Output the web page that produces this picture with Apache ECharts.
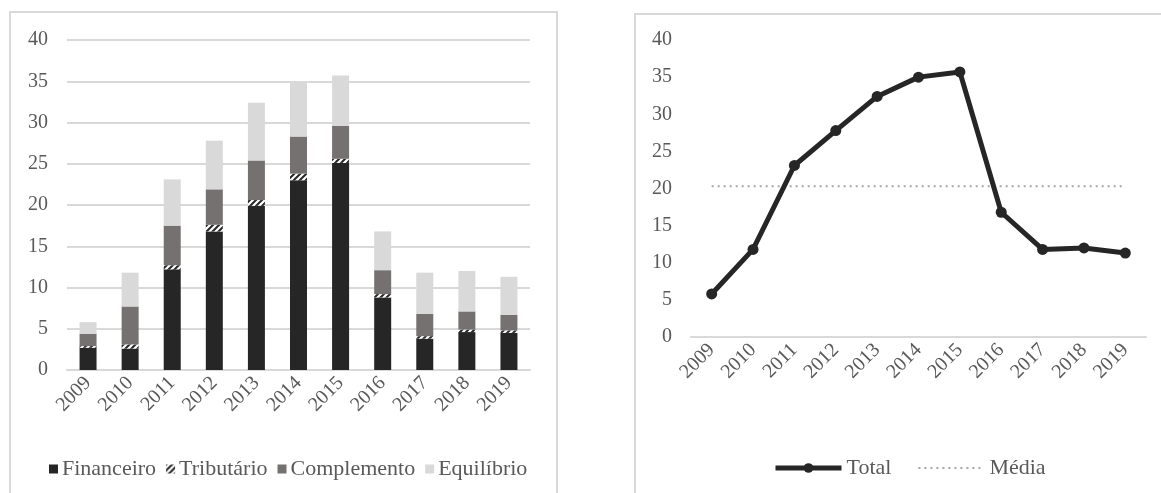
<!DOCTYPE html>
<html>
<head>
<meta charset="utf-8">
<script src="https://cdn.jsdelivr.net/npm/echarts@6/dist/echarts.min.js"></script>
<style>
  html, body { margin: 0; padding: 0; background: #ffffff; }
  #chart { width: 1161px; height: 493px; }
</style>
</head>
<body>
<div id="chart"></div>
<script>
// Anos
const years = ['2009', '2010', '2011', '2012', '2013', '2014', '2015', '2016', '2017', '2018', '2019'];

// Composição por tipo (empilhado)
const financeiro  = [2.7, 2.6, 12.2, 16.8, 19.9, 23.0, 25.1, 8.8, 3.8, 4.6, 4.5];
const tributario  = [0.2, 0.5, 0.5, 0.8, 0.7, 0.8, 0.5, 0.4, 0.3, 0.3, 0.3];
const complemento = [1.5, 4.6, 4.8, 4.3, 4.8, 4.5, 4.0, 2.9, 2.7, 2.2, 1.9];
const equilibrio  = [1.4, 4.1, 5.6, 5.9, 7.0, 6.7, 6.1, 4.7, 5.0, 4.9, 4.6];

// Total anual e média do período
const total = [5.8, 11.8, 23.1, 27.8, 32.4, 35.0, 35.7, 16.8, 11.8, 12.0, 11.3];
const mediaValor = 20.3;
const media = years.map(() => mediaValor);

// Eixo de valores
const yTicks = { min: 0, max: 40, interval: 5 };

const FONT = '"Liberation Serif", "Times New Roman", serif';
const TEXT = '#595959';
const GRID_GRAY = '#d9d9d9';

// Hachura diagonal para "Tributário"
function hatchPattern() {
  const c = document.createElement('canvas');
  c.width = 6; c.height = 6;
  const g = c.getContext('2d');
  g.fillStyle = '#ffffff';
  g.fillRect(0, 0, 6, 6);
  g.strokeStyle = '#262626';
  g.lineWidth = 2;
  g.beginPath();
  g.moveTo(-1, 7); g.lineTo(7, -1);
  g.moveTo(-4, 4); g.lineTo(4, -4);
  g.moveTo(2, 10); g.lineTo(10, 2);
  g.stroke();
  return c;
}
const hatch = { image: hatchPattern(), repeat: 'repeat' };

const chart = echarts.init(document.getElementById('chart'), null, { renderer: 'canvas' });

const catAxis = (gridIndex) => ({
  type: 'category',
  gridIndex,
  data: years,
  axisLine: { lineStyle: { color: GRID_GRAY, width: 2 } },
  axisTick: { show: false },
  axisLabel: { rotate: 45, color: TEXT, fontFamily: FONT, fontSize: 20, margin: 10 }
});
const valAxis = (gridIndex, grid) => ({
  type: 'value',
  gridIndex,
  min: yTicks.min, max: yTicks.max, interval: yTicks.interval,
  axisLine: { show: false },
  axisTick: { show: false },
  axisLabel: { color: TEXT, fontFamily: FONT, fontSize: 20, margin: 19 },
  splitLine: { show: grid, lineStyle: { color: GRID_GRAY, width: 2 } }
});

const barSeries = (name, data, color) => ({
  name, type: 'bar', stack: 'tipo', data,
  xAxisIndex: 0, yAxisIndex: 0,
  barWidth: 17,
  itemStyle: { color },
  emphasis: { disabled: true }
});

chart.setOption({
  animation: false,
  backgroundColor: '#ffffff',
  graphic: [
    { type: 'rect', shape: { x: 10, y: 12, width: 547, height: 520 },
      style: { fill: 'none', stroke: GRID_GRAY, lineWidth: 2 }, silent: true },
    { type: 'rect', shape: { x: 635, y: 14, width: 560, height: 520 },
      style: { fill: 'none', stroke: GRID_GRAY, lineWidth: 2 }, silent: true }
  ],
  grid: [
    { left: 67, right: 631, top: 40, bottom: 123 },
    { left: 691, right: 15, top: 40, bottom: 156 }
  ],
  xAxis: [catAxis(0), catAxis(1)],
  yAxis: [valAxis(0, true), valAxis(1, false)],
  legend: [
    {
      data: ['Financeiro', 'Tributário', 'Complemento', 'Equilíbrio'],
      left: 44, top: 453,
      itemWidth: 9, itemHeight: 9, itemGap: 10,
      icon: 'rect',
      textStyle: { color: TEXT, fontFamily: FONT, fontSize: 22, padding: [0, 0, 0, -1] },
      selectedMode: false
    },
    {
      data: [
        { name: 'Total', lineStyle: { width: 5 }, itemStyle: { color: '#262626' } },
        { name: 'Média', itemStyle: { opacity: 0 }, lineStyle: { width: 2, type: [2, 4] } }
      ],
      left: 768, top: 452,
      itemWidth: 66, itemHeight: 12, itemGap: 26,
      textStyle: { color: TEXT, fontFamily: FONT, fontSize: 22 },
      selectedMode: false
    }
  ],
  series: [
    barSeries('Financeiro', financeiro, '#262626'),
    barSeries('Tributário', tributario, hatch),
    barSeries('Complemento', complemento, '#767171'),
    barSeries('Equilíbrio', equilibrio, '#d9d9d9'),
    {
      name: 'Total', type: 'line', data: total,
      xAxisIndex: 1, yAxisIndex: 1,
      symbol: 'circle', symbolSize: 11,
      lineStyle: { color: '#262626', width: 5 },
      itemStyle: { color: '#262626' },
      emphasis: { disabled: true },
      z: 3
    },
    {
      name: 'Média', type: 'line', data: media,
      xAxisIndex: 1, yAxisIndex: 1,
      symbol: 'none',
      lineStyle: { color: '#a6a6a6', width: 2, type: [2, 4] },
      itemStyle: { color: '#a6a6a6' },
      emphasis: { disabled: true },
      z: 2
    }
  ]
});
</script>
</body>
</html>
